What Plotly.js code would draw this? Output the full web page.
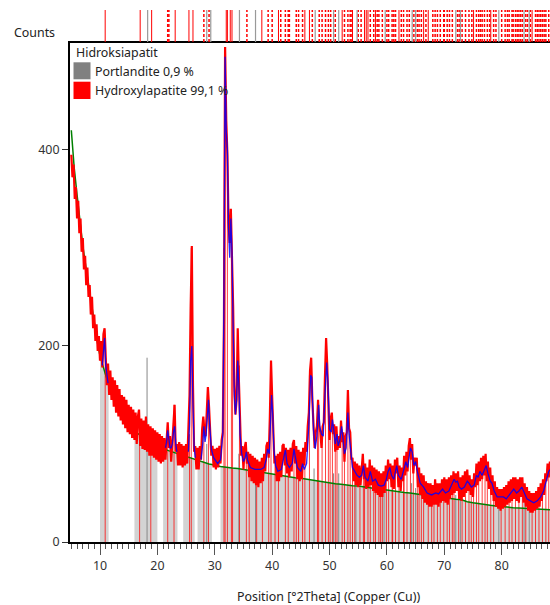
<!DOCTYPE html>
<html><head><meta charset="utf-8">
<script src="https://cdn.plot.ly/plotly-3.0.1.min.js"></script>
<style>html,body{margin:0;padding:0;background:#fff}#chart{width:550px;height:605px}</style>
</head><body><div id="chart"></div>
<script>
// ---- Observed scan (counts), uniform step in degrees 2Theta ----
const obsStart = 5.0;
const obsStep = 0.2;
const obsCounts = [
395,372,385,350,362,330,348,315,330,296,
310,278,292,262,280,250,262,232,250,218,
232,205,222,195,210,185,205,178,212,218,
188,160,182,150,175,145,168,138,165,132,
160,128,156,124,150,120,148,116,145,112,
140,110,138,106,135,104,132,100,128,135,
98,126,95,124,94,128,92,120,88,118,
88,116,86,114,84,112,82,110,80,108,
82,106,84,112,122,96,108,82,104,118,
140,92,100,78,102,78,100,76,98,78,
100,80,108,150,240,302,160,92,98,74,
96,74,98,84,115,128,112,108,132,158,
138,112,88,98,76,95,74,96,76,98,
80,104,112,225,505,430,395,325,305,340,
300,240,160,130,145,218,165,122,88,98,
74,96,102,80,92,66,90,62,88,60,
86,58,84,56,82,60,86,62,90,72,
98,102,86,128,185,148,112,80,88,62,
90,62,92,66,98,100,78,96,70,94,
66,96,72,100,104,80,98,64,94,62,
92,64,96,78,102,92,118,132,175,188,
145,126,96,112,118,145,118,112,96,118,
122,168,208,180,145,104,126,132,110,120,
92,118,94,108,96,124,102,112,82,108,
112,155,116,112,84,86,62,82,58,80,
56,78,58,80,90,64,80,54,76,56,
84,58,78,52,76,50,74,48,72,46,
70,46,72,50,78,62,84,64,80,56,
78,54,84,70,86,56,78,52,76,62,
88,68,92,72,98,106,84,100,70,86,
78,86,56,76,48,70,44,68,40,62,
38,60,36,60,36,58,38,64,38,60,
36,60,40,64,42,66,40,64,38,66,
44,68,48,72,50,70,52,72,44,66,
42,68,46,72,50,74,52,68,48,64,
46,70,56,80,58,82,62,86,64,88,
68,90,62,82,54,76,48,68,42,62,
36,56,34,54,32,54,34,56,36,58,
38,62,40,64,42,66,44,66,42,64,
40,66,46,66,40,60,36,56,32,52,
30,50,30,50,32,52,34,56,36,60,
42,64,48,70,62,80,66,82
];

// ---- Background (counts) ----
const bgPos = [5,5.5,6,6.5,7,7.5,8,8.5,9,9.5,10,10.5,11,11.5,12,12.5,13,13.5,14,14.5,15,15.5,16,16.5,17,17.5,18,18.5,19,19.5,20,20.5,21,21.5,22,22.5,23,23.5,24,24.5,25,25.5,26,26.5,27,27.5,28,28.5,29,29.5,30,
31,32,33,34,35,36,37,38,39,40,41,42,43,44,45,46,47,48,49,50,51,52,53,54,55,56,57,58,59,60,61,62,63,64,65,66,67,68,69,70,71,72,73,74,75,76,77,78,79,80,81,82,83,84,85,86,87,88,88.5];
const bgCounts = [420,382,354,326,302,282,262,240,222,205,190,179,170,161,153,146,140,135,130,125,121,118,114,111,109,107,105,103,101,99,98,96,95,94,93,92,91,90,89,88,87,86,85,84,83,82,81,80,79.5,79,78,
77,76,75.5,75,74,73,72,71,70,69,68,67,66,65.5,65,64,63,62,61,60,59.5,59,58,57.5,57,56,55,54,53.5,53,52,51,50.5,50,49,48,47.5,47,46,45,44,43.5,43,41,40,39,38.2,37.5,36.8,36,35.5,35,34.6,34.2,34,33.7,33.4,33,33];

// ---- Calculated profile (counts), null = not drawn ----
const calcPos = [10.4,10.6,10.8,11.0,11.2,11.4,null,
21.4,21.6,21.8,22.0,22.2,22.4,22.6,22.8,23.0,23.2,23.4,null,
25.4,25.6,25.8,26.0,26.2,26.4,26.6,null,
27.6,27.9,28.1,28.3,28.5,28.7,28.9,29.1,29.4,29.8,30.5,31.0,31.4,31.6,31.8,32.0,32.2,32.4,32.6,32.8,33.0,33.2,33.4,33.6,33.8,34.0,34.2,34.4,34.7,35.0,35.3,35.5,35.7,36.2,37.0,38.0,38.6,39.0,39.2,39.5,39.7,39.9,40.1,40.3,40.6,41.0,41.6,42.0,42.3,42.6,43.0,43.5,43.8,44.0,44.4,45.0,45.3,45.6,46.0,46.4,46.7,46.9,47.2,47.5,47.8,48.1,48.3,48.6,48.9,49.2,49.5,49.7,50.0,50.3,50.5,50.7,51.0,51.3,51.5,51.8,52.1,52.3,52.6,52.9,53.2,53.4,53.7,54.0,54.4,54.8,55.2,55.6,55.9,56.2,56.7,57.1,57.5,58.0,58.5,59.0,59.5,59.9,60.2,60.5,60.8,61.2,61.7,62.0,62.5,63.0,63.3,63.6,64.1,64.4,64.7,65.0,65.3,65.8,66.4,67.0,67.8,68.5,69.0,69.7,70.2,70.8,71.3,71.7,72.0,72.3,72.6,73.0,73.5,74.0,74.3,74.7,75.2,75.6,75.9,76.2,76.6,77.0,77.3,77.6,78.0,78.3,78.7,79.2,79.9,80.3,80.8,81.3,81.7,82.1,82.6,83.0,83.5,83.9,84.4,85.0,85.6,86.2,86.8,87.3,87.7,88.0,88.2,88.5];
const calcCounts = [180,195,208,180,168,162,null,
96,102,114,102,96,96,100,112,118,100,92,null,
92,120,185,200,140,98,86,null,
84,100,118,102,110,135,145,120,95,86,80,84,110,250,495,420,400,320,290,330,295,220,150,130,145,185,160,110,90,82,86,92,84,76,74,74,76,85,95,90,115,150,130,95,78,72,74,88,94,80,76,80,95,88,76,72,80,74,80,120,170,168,115,95,108,140,118,110,108,150,183,165,115,112,125,116,100,110,98,104,118,108,90,96,132,110,92,76,72,68,66,68,78,66,62,72,62,64,58,57,58,64,72,76,68,64,78,68,64,76,82,76,96,92,78,82,72,60,56,50,48,50,49,54,50,52,58,64,61,62,56,54,56,62,60,56,58,68,66,72,68,74,78,70,62,60,52,46,46,46,44,48,52,54,50,52,56,50,44,42,40,42,46,52,60,68,72,74];

// ---- Reference sticks: Hydroxylapatite (position, top in counts) ----
const hapPos = [10.9,16.9,18.85,21.8,22.9,25.6,25.9,28.1,28.9,31.6,31.8,32.2,32.9,33.1,34.3,35.5,36.0,37.3,38.3,39.4,39.8,40.5,41.1,42.3,42.8,43.8,44.2,44.6,45.3,45.7,46.5,47.9,48.1,48.7,49.3,49.8,50.1,50.5,51.0,51.3,52.2,52.6,53.2,53.6,54.0,54.4,55.3,55.9,56.1,56.7,57.1,57.7,58.0,58.6,58.9,59.2,59.9,60.3,60.9,61.0,61.5,62.1,62.9,63.0,63.5,64.1,64.6,65.3,65.6,66.0,66.4,67.2,67.8,68.2,68.8,69.3,69.9,70.5,70.9,71.4,71.7,72.5,73.1,73.7,74.3,74.7,75.1,75.6,76.0,76.6,77.1,77.5,78.1,78.6,79.9,80.6,81.3,81.8,82.4,83.0,83.6,84.2,85.3,85.9,86.5,87.1,87.7,88.2];
const hapTop = [205,110,100,115,140,110,300,125,150,300,500,400,330,240,180,95,80,75,78,95,180,80,75,92,80,95,85,75,80,90,170,120,140,110,180,150,110,125,100,110,115,95,150,105,80,72,70,80,75,70,75,70,65,62,60,60,62,75,70,65,72,68,78,80,85,100,85,80,70,62,60,55,55,52,55,52,58,55,58,62,65,58,60,62,65,60,60,72,76,78,85,78,68,55,48,50,52,55,58,55,58,52,45,45,48,55,65,75];

// ---- Reference sticks: Portlandite ----
const portPos = [18.2,28.6,34.2,37.1,47.3,50.7,51.6,54.6,59.5,64.3,65.0,72.0,72.8,79.5,83.9,84.8];
const portTop = [188,100,90,75,75,70,70,65,58,60,55,48,48,42,40,40];

// ---- Top strip markers ----
const stripHapSolid = [10.9,17.0,19.0,23.1,25.5,26.2,32.0,32.2,32.7,33.0,38.2,41.1,45.7,46.5,52.2,54.0,56.1,56.4,56.7,58.0,62.1,66.4,67.2,75.1,78.1,85.3];
const stripHapDash = [21.8,22.0,28.1,29.0,35.6,39.3,40.0,41.5,42.3,42.8,43.0,44.2,44.6,45.3,47.0,48.2,48.7,49.3,49.8,50.2,51.0,52.6,53.2,53.6,53.9,55.0,55.5,57.1,57.7,58.3,58.6,59.2,60.0,60.3,60.9,61.2,61.5,62.5,62.9,63.5,63.9,64.7,65.3,65.6,66.0,66.8,68.0,68.4,68.8,69.3,69.9,70.0,70.5,70.9,71.4,72.3,72.6,73.1,73.7,74.3,74.8,75.6,76.0,76.3,76.6,77.0,77.5,77.9,78.6,79.0,80.0,80.6,81.0,81.3,81.8,82.0,82.4,82.7,83.0,83.3,83.6,84.2,84.5,85.0,85.9,86.2,86.5,86.8,87.1,87.4,87.7,88.2];
const stripPort = [18.3,28.6,29.3,34.3,37.1,47.5,50.7,51.6,54.8,59.7,64.4,65.0,72.0,72.8,79.5,83.9,84.8];

// ---- Shaded ranges (degrees) and axis ticks ----
const shadedRanges = [[10,11.5],[16,20],[21,23.5],[24.5,26.5],[27,29.5],[31,88.5]];
const xTickVals = [10,20,30,40,50,60,70,80];
const yTickVals = [0,200,400];

const obsPos = obsCounts.map((_, i) => +(obsStart + i * obsStep).toFixed(2));

function stickXY(pos, top) {
  const x = [], y = [];
  pos.forEach((p, i) => { x.push(p, p, null); y.push(0, top[i], null); });
  return {x, y};
}
function stripXY(pos) {
  const x = [], y = [];
  pos.forEach(p => { x.push(p, p, null); y.push(0, 1, null); });
  return {x, y};
}

const traces = [];
shadedRanges.forEach(r => {
  const xs = [], ys = [];
  bgPos.forEach((p, i) => { if (p >= r[0] && p <= r[1]) { xs.push(p); ys.push(bgCounts[i]); } });
  traces.push({type:'scatter', mode:'lines', x:xs, y:ys, fill:'tozeroy', fillcolor:'#d3d3d3',
    line:{width:0, color:'#d3d3d3'}, hoverinfo:'skip'});
});
const ps = stickXY(portPos, portTop);
traces.push({type:'scatter', mode:'lines', x:ps.x, y:ps.y, line:{color:'#888', width:1}, hoverinfo:'skip'});
const hs = stickXY(hapPos, hapTop);
traces.push({type:'scatter', mode:'lines', x:hs.x, y:hs.y, line:{color:'rgba(255,0,0,0.75)', width:1}, hoverinfo:'skip'});
traces.push({type:'scatter', mode:'lines', x:bgPos, y:bgCounts, line:{color:'#008000', width:1.5}});
traces.push({type:'scatter', mode:'lines', x:obsPos, y:obsCounts, line:{color:'#ff0000', width:2.2}});
traces.push({type:'scatter', mode:'lines', x:calcPos, y:calcCounts, line:{color:'rgba(0,0,255,0.85)', width:1.3}, connectgaps:false});
const s1 = stripXY(stripHapSolid);
traces.push({type:'scatter', mode:'lines', x:s1.x, y:s1.y, yaxis:'y2', line:{color:'#ff0000', width:1}, hoverinfo:'skip'});
const s2 = stripXY(stripHapDash);
traces.push({type:'scatter', mode:'lines', x:s2.x, y:s2.y, yaxis:'y2', line:{color:'#ff0000', width:1.5, dash:'3px,2px'}, hoverinfo:'skip'});
const s3 = stripXY(stripPort);
traces.push({type:'scatter', mode:'lines', x:s3.x, y:s3.y, yaxis:'y2', line:{color:'#999', width:1.2}, hoverinfo:'skip'});

const W = 480, H = 542, L = 70;
const px = v => (v - L) / W;
const py = v => (H - v) / H;
const txtFont = {family:'"Noto Sans", "Open Sans", sans-serif', size:12.4, color:'#222'};

const layout = {
  width:550, height:605,
  margin:{l:70, r:0, t:0, b:63, pad:0},
  paper_bgcolor:'#fff', plot_bgcolor:'#fff',
  showlegend:false,
  font:{family:'"Noto Sans", "Open Sans", sans-serif', size:12, color:'#333'},
  xaxis:{range:[4.77,88.42], tickvals:xTickVals, ticks:'outside', ticklen:11, tickwidth:1, tickcolor:'#555',
    minor:{dtick:1, tick0:0, ticks:'outside', ticklen:5, tickwidth:1, tickcolor:'#555', showgrid:false},
    showline:true, linewidth:2, linecolor:'#000', mirror:true, showgrid:false, zeroline:false,
    tickfont:{size:12.4, color:'#333'}},
  yaxis:{domain:[0, 499/542], range:[0,509], tickvals:yTickVals, ticks:'outside', ticklen:6, tickwidth:1, tickcolor:'#333',
    showline:true, linewidth:2, linecolor:'#000', showgrid:false, zeroline:false, tickfont:{size:12.4, color:'#333'}},
  yaxis2:{domain:[(542-42)/542, (542-10)/542], range:[0,1], visible:false, fixedrange:true},
  shapes:[
    {type:'rect', xref:'paper', yref:'paper', x0:px(73.5), x1:px(90.5), y0:py(79.3), y1:py(62.3), fillcolor:'#808080', line:{width:0}},
    {type:'rect', xref:'paper', yref:'paper', x0:px(73.5), x1:px(90.5), y0:py(99), y1:py(81.7), fillcolor:'#ff0000', line:{width:0}}
  ],
  annotations:[
    {text:'Counts', xref:'paper', yref:'paper', x:px(12), y:py(33), xanchor:'left', yanchor:'middle', showarrow:false, font:txtFont},
    {text:'Position [°2Theta] (Copper (Cu))', xref:'paper', yref:'paper', x:px(328.5), y:py(596), xanchor:'center', yanchor:'middle', showarrow:false, font:txtFont},
    {text:'Hidroksiapatit', xref:'paper', yref:'paper', x:px(74), y:py(52.7), xanchor:'left', yanchor:'middle', showarrow:false, font:txtFont},
    {text:'Portlandite 0,9 %', xref:'paper', yref:'paper', x:px(93), y:py(71.7), xanchor:'left', yanchor:'middle', showarrow:false, font:txtFont},
    {text:'Hydroxylapatite 99,1 %', xref:'paper', yref:'paper', x:px(93), y:py(91), xanchor:'left', yanchor:'middle', showarrow:false, font:txtFont}
  ]
};

Plotly.newPlot('chart', traces, layout, {displayModeBar:false, staticPlot:true});
</script>
</body></html>
